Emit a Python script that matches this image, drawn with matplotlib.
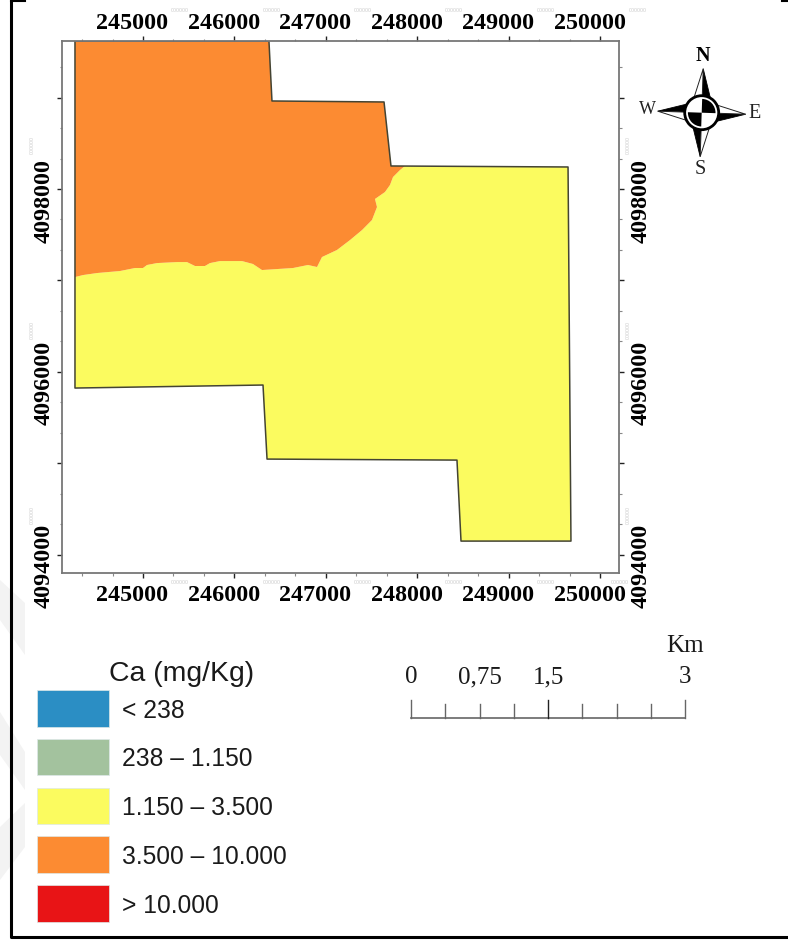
import matplotlib
matplotlib.use('Agg')
import matplotlib.pyplot as plt
from matplotlib.patches import Polygon, Rectangle, Circle, Wedge
from matplotlib.ticker import AutoMinorLocator
from matplotlib.transforms import ScaledTranslation
import numpy as np

# Zone limits in map coordinates (metres)
boundary_x = [247866, 247812, 247735, 247702, 247647, 247538, 247560, 247505, 247396, 247265, 247122,
              246958, 246904, 246805, 246641, 246302, 246203, 246083, 245842, 245733, 245678, 245569,
              245481, 245372, 245153, 245044, 245000, 244912, 244748, 244497, 244344, 244256]
boundary_y = [4098252, 4098208, 4098131, 4098044, 4097967, 4097891, 4097803, 4097661, 4097551, 4097442, 4097333,
              4097256, 4097147, 4097169, 4097136, 4097114, 4097180, 4097212, 4097212, 4097190, 4097158, 4097158,
              4097201, 4097201, 4097190, 4097169, 4097136, 4097136, 4097103, 4097081, 4097059, 4097037]

orange_x = [244256, 246378, 246411, 247637, 247713]
orange_y = [4099619, 4099619, 4098963, 4098952, 4098252]
yellow_x = [249650, 249682, 248479, 248435, 246357, 246313, 244256]
yellow_y = [4098241, 4094149, 4094149, 4095035, 4095046, 4095856, 4095823]

xticks = [245000, 246000, 247000, 248000, 249000, 250000]
yticks = [4094000, 4095000, 4096000, 4097000, 4098000, 4099000]
ylabels = ['4094000', '', '4096000', '', '4098000', '']

legend_title = 'Ca (mg/Kg)'
legend_labels = ['< 238', '238 – 1.150', '1.150 – 3.500', '3.500 – 10.000', '> 10.000']
legend_colors = ['#2B8EC4', '#A3C29E', '#FBFB5F', '#FC8B32', '#E81416']

scale_labels = [0, 0.75, 1.5, 3]
scale_text = ['0', '0,75', '1,5', '3']
scale_steps = [0, 0.375, 0.75, 1.125, 1.5, 1.875, 2.25, 2.625, 3]

ORANGE = legend_colors[3]
YELLOW = legend_colors[2]
SERIF = 'Liberation Serif'
SANS = 'Liberation Sans'

fig = plt.figure(figsize=(7.88, 9.40), dpi=100)

# Overlay in pixels for border, legend, scale bar and north arrow
over = fig.add_axes([0, 0, 1, 1], zorder=3)
over.set_xlim(0, 788)
over.set_ylim(940, 0)
over.set_axis_off()
over.patch.set_alpha(0)

# faint watermark bands on the left side
for pts in ([(0, 580), (25, 603), (25, 655), (0, 620)],
            [(0, 712), (25, 752), (25, 790), (0, 755)],
            [(0, 827), (25, 803), (25, 847), (0, 880)]):
    over.add_patch(Polygon(pts, closed=True, fc='#F3F3F3', ec='none'))

# page border
over.plot([11, 11, 788], [0, 936.5, 936.5], color='black', lw=2.2, solid_capstyle='butt')
over.plot([11, 25], [0.5, 0.5], color='black', lw=1.5)
over.plot([782, 788], [0.5, 0.5], color='black', lw=1.5)

# Map frame
ax = fig.add_axes([62 / 788, (940 - 573) / 940, 556.5 / 788, 532 / 940])
ax.set_xlim(244114, 250202)
ax.set_ylim(4093800, 4099619)

poly_orange = list(zip(orange_x + boundary_x, orange_y + boundary_y))
poly_yellow = list(zip(boundary_x[::-1] + yellow_x, boundary_y[::-1] + yellow_y))
ax.add_patch(Polygon(poly_yellow, closed=True, fc=YELLOW, ec='none'))
ax.add_patch(Polygon(poly_orange, closed=True, fc=ORANGE, ec='none'))

# outer limit only, the contact between zones has no line
outline_x = orange_x + yellow_x
outline_y = orange_y + yellow_y
outline_x = outline_x + [outline_x[0]]
outline_y = outline_y + [outline_y[0]]
ax.plot(outline_x, outline_y, color='#444433', lw=1.1)

ax.set_xticks(xticks)
ax.set_xticklabels([str(v) for v in xticks])
ax.set_yticks(yticks)
ax.set_yticklabels(ylabels)
ax.xaxis.set_minor_locator(AutoMinorLocator(3))
ax.yaxis.set_minor_locator(AutoMinorLocator(3))
ax.tick_params(which='major', top=True, right=True, labeltop=True, labelright=True,
               length=3.6, width=1.0, color='#222222', pad=4)
ax.tick_params(which='minor', top=True, right=True, length=1.8, width=0.8, color='#888888')
for spine in ax.spines.values():
    spine.set_color('#777777')
    spine.set_linewidth(1.3)


def shift(dx_px, dy_px):
    return ScaledTranslation(dx_px / 100, dy_px / 100, fig.dpi_scale_trans)


# tick labels sit off-centre from their ticks in the source map
for tick in ax.xaxis.get_major_ticks():
    for lab, off in ((tick.label1, shift(-10.5, -1)), (tick.label2, shift(-10.5, -4))):
        lab.set_fontfamily(SERIF)
        lab.set_fontweight('bold')
        lab.set_fontsize(17.3)
        lab.set_transform(lab.get_transform() + off)
for tick in ax.yaxis.get_major_ticks():
    tick.label1.set_rotation(90)
    tick.label2.set_rotation(90)
    for lab, off in ((tick.label1, shift(3, -11.5)), (tick.label2, shift(2, -11.5))):
        lab.set_fontfamily(SERIF)
        lab.set_fontweight('bold')
        lab.set_fontsize(17.3)
        lab.set_verticalalignment('center')
        lab.set_transform(lab.get_transform() + off)

# ghost labels left in the export
for x in [180, 272, 363, 454, 546, 638]:
    over.text(x, 10.7, '000000', fontsize=3.8, color='#CCCCCC', ha='center', va='center', family=SANS)
for x in [180, 272, 363, 454, 546, 620]:
    over.text(x, 582, '000000', fontsize=3.8, color='#CCCCCC', ha='center', va='center', family=SANS)
for y in [145, 330, 515]:
    over.text(32, y, '000000', fontsize=3.8, color='#CCCCCC', ha='center', va='center', rotation=90, family=SANS)
    over.text(628, y, '000000', fontsize=3.8, color='#CCCCCC', ha='center', va='center', rotation=90, family=SANS)

# Legend
over.text(109, 674, legend_title, family=SANS, fontsize=20.4, ha='left', va='center', color='#1A1A1A')
for i, (lab, col) in enumerate(zip(legend_labels, legend_colors)):
    top = 690 + i * 48.8
    over.add_patch(Rectangle((37, top), 72, 36.5, fc=col, ec='#DDE8E8', lw=0.5))
    over.text(122, top + 20.5, lab, family=SANS, fontsize=17.7, ha='left', va='center', color='#1A1A1A')

# Scale bar, 91.4 px per km as in the map
px_km = 91.4
sx = [411 + s * px_km for s in scale_steps]
over.plot([sx[0], sx[-1]], [718, 718], color='#666666', lw=1.2)
for i, x in enumerate(sx):
    main = i in (0, 4, 8)
    over.plot([x, x], [718, 700 if main else 704], color='#222222' if i == 4 else '#666666', lw=1.0)
for val, txt in zip(scale_labels, scale_text):
    over.text(411 + val * px_km, 677, txt, family=SERIF, fontsize=18, ha='center', va='center', color='#1A1A1A')
over.text(685, 646, 'Km', family=SERIF, fontsize=18, ha='center', va='center', color='#1A1A1A')

# North arrow
cx, cy = 701.7, 112.7
rot = np.deg2rad(2)


def turn(pts):
    out = []
    for px, py in pts:
        out.append((cx + px * np.cos(rot) - py * np.sin(rot), cy + px * np.sin(rot) + py * np.cos(rot)))
    return out


for ang in [0, 90, 180, 270]:
    a = np.deg2rad(ang)
    c, s = np.cos(a), np.sin(a)
    tip = (44 * s, -44 * c)
    side_a = (9 * c + 12 * s, 9 * s - 12 * c)
    side_b = (-9 * c + 12 * s, -9 * s - 12 * c)
    mid = (12 * s, -12 * c)
    over.add_patch(Polygon(turn([tip, side_a, mid]), closed=True, fc='black', ec='black', lw=0.6))
    over.add_patch(Polygon(turn([tip, mid, side_b]), closed=True, fc='white', ec='#222222', lw=0.7))
over.add_patch(Circle((cx, cy), 17, fc='white', ec='black', lw=2.0))
over.add_patch(Wedge((cx, cy), 13.8, 272, 362, fc='black', ec='none'))
over.add_patch(Wedge((cx, cy), 13.8, 92, 182, fc='black', ec='none'))
over.text(703, 56, 'N', family=SERIF, fontsize=14.5, fontweight='bold', ha='center', va='center')
over.text(700, 169, 'S', family=SERIF, fontsize=14.5, ha='center', va='center', color='#222222')
over.text(647, 110, 'W', family=SERIF, fontsize=13, ha='center', va='center', color='#222222')
over.text(755, 114, 'E', family=SERIF, fontsize=14.5, ha='center', va='center', color='#222222')

fig.savefig('out.png', dpi=100)
